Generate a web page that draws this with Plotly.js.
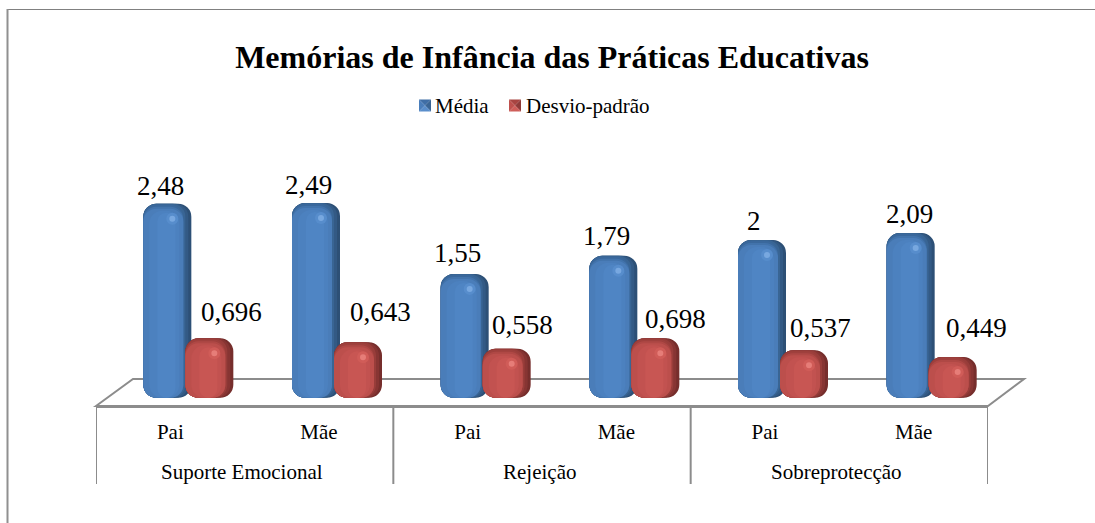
<!DOCTYPE html>
<html><head><meta charset="utf-8">
<script src="https://cdn.plot.ly/plotly-3.0.1.min.js"></script>
<style>html,body{margin:0;padding:0;background:#fff}</style></head>
<body><div id="chart" style="width:1095px;height:523px"></div>
<script>
const groups = ['Suporte Emocional','Rejeição','Sobreprotecção'];
const parents = ['Pai','Mãe','Pai','Mãe','Pai','Mãe'];
const media = [2.48,2.49,1.55,1.79,2,2.09];
const desvio = [0.696,0.643,0.558,0.698,0.537,0.449];
const mediaLabels = ['2,48','2,49','1,55','1,79','2','2,09'];
const desvioLabels = ['0,696','0,643','0,558','0,698','0,537','0,449'];
const positions = [0,1,2,3,4,5];

// layout helpers (pixels)
const W=1095,H=523,L=96,R=988,T=160,B=406;
const unitX=(R-L)/6, unitY=75.5;
const yMin=-0.2, yMax=yMin+(B-T)/unitY, foot=-0.09;
const px=v=>v/unitX, py=v=>v/unitY;
const X=(p)=>(p-L)/(R-L), Y=(p)=>(B-p)/(B-T);

function layer(vals,off,wid,drop,color,name){
  return {type:'bar',x:positions,y:vals.map(v=>v-py(drop)-foot),base:vals.map(()=>foot),
    offset:px(off),width:px(wid),marker:{color:color,line:{width:0}},
    name:name||'',showlegend:false,hoverinfo:'skip'};
}
function spot(vals,off,wid,drop,len,color){
  return {type:'bar',x:positions,y:vals.map(()=>py(len)),base:vals.map(v=>v-py(drop)-py(len)),
    offset:px(off),width:px(wid),marker:{color:color,line:{width:0}},showlegend:false,hoverinfo:'skip'};
}
function series(vals,o,c,name){
  return [
    layer(vals,o,48,0,c.side[0]),
    layer(vals,o,45,0,c.side[1]),
    layer(vals,o,42,0,c.side[2]),
    layer(vals,o,40,1,c.face[0]),
    layer(vals,o,40,3,c.face[1]),
    layer(vals,o,40,5,c.face[2],name),
    layer(vals,o+6,30,7,c.face[3]),
    layer(vals,o+14,18,9,c.face[4]),
    spot(vals,o+23,12,9,12,c.spot[0]),
    spot(vals,o+26,6,12,6,c.spot[1])
  ];
}
const blue={side:['#2d5076','#335a85','#396594'],face:['#3a689c','#4273ab','#4a7db9','#4c81bf','#4f85c4'],spot:['#578dcc','#78a8e0']};
const red={side:['#762e2c','#873533','#983d3a'],face:['#9f403d','#af4845','#bc4f4c','#c25250','#c85653'],spot:['#d05c58','#e67d78']};
const data=[...series(media,-27,blue,'Média'),...series(desvio,15,red,'Desvio-padrão')];

const mediaPos=[[-10,-18],[-11,-18],[-10,-21],[-10,-20],[-11,-19],[-4,-19]];
const desvioPos=[[61,-26],[61,-30],[55,-24],[59,-19],[55,-22],[63,-29]];
const annotations=[];
function addLabels(vals,labels,pos){
  vals.forEach((v,i)=>annotations.push({xref:'x',yref:'y',x:i,y:v,text:labels[i],showarrow:false,
    xshift:pos[i][0],yshift:-pos[i][1],xanchor:'center',yanchor:'middle',
    font:{family:'Liberation Serif',size:27,color:'#000'}}));
}
addLabels(media,mediaLabels,mediaPos);
addLabels(desvio,desvioLabels,desvioPos);
groups.forEach((g,i)=>annotations.push({xref:'x',yref:'paper',x:2*i+0.5,y:Y(472),text:g,showarrow:false,xshift:-3,
  xanchor:'center',yanchor:'middle',font:{family:'Liberation Serif',size:21,color:'#000'}}));
[['Média',433],['Desvio-padrão',524]].forEach(([t,p])=>annotations.push({xref:'paper',yref:'paper',x:X(p),y:Y(106),text:t,showarrow:false,
  xanchor:'left',yanchor:'middle',font:{family:'Liberation Serif',size:21,color:'#000'}}));

const gray='#8c8c8c';
const floorPath=`M ${X(96)} ${Y(406)} L ${X(133)} ${Y(379)} L ${X(1024)} ${Y(379)} L ${X(988)} ${Y(406)} Z`;
const shapes=[
  {type:'path',xref:'paper',yref:'paper',path:floorPath,line:{color:gray,width:2},fillcolor:'#fff',layer:'below'},
  {type:'line',xref:'paper',yref:'paper',x0:X(7),x1:X(1095),y0:Y(9.5),y1:Y(9.5),line:{color:'#808080',width:1}},
  {type:'line',xref:'paper',yref:'paper',x0:X(7.5),x1:X(7.5),y0:Y(9),y1:Y(523),line:{color:'#909090',width:2}}
];
[-0.5,1.5,3.5,5.5].forEach(d=>shapes.push({type:'line',xref:'x',yref:'paper',x0:d,x1:d,y0:Y(406),y1:Y(484),line:{color:gray,width:2}}));
function pyramid(x0,y0,s,cols){
  const c=[x0+s/2,y0+s/2],p=[[x0,y0],[x0+s,y0],[x0+s,y0+s],[x0,y0+s]];
  p.forEach((a,i)=>{const b=p[(i+1)%4];
    shapes.push({type:'path',xref:'paper',yref:'paper',line:{width:0},fillcolor:cols[i],
      path:`M ${X(a[0])} ${Y(a[1])} L ${X(b[0])} ${Y(b[1])} L ${X(c[0])} ${Y(c[1])} Z`});});
}
pyramid(419,99.5,12,['#3f6ea6','#3a6595','#5a8ecb','#4a7ebb']);
pyramid(509,99.5,12,['#a84441','#8f3a38','#cf5e5a','#bf504d']);

const layout={
  width:W,height:H,margin:{l:L,r:W-R,t:T,b:H-B,pad:0},
  paper_bgcolor:'#fff',plot_bgcolor:'rgba(0,0,0,0)',
  barmode:'overlay',barcornerradius:13,showlegend:false,
  font:{family:'Liberation Serif',color:'#000'},
  title:{text:'<b>Memórias de Infância das Práticas Educativas</b>',x:552/W,xanchor:'center',y:1-57/H,yanchor:'middle',
    font:{family:'Liberation Serif',size:32,color:'#000'}},
  xaxis:{type:'linear',range:[-0.5,5.5],autorange:false,tickmode:'array',tickvals:positions,ticktext:parents,
    showline:true,linecolor:gray,linewidth:2,ticks:'',ticklen:0,ticklabelstandoff:6,showgrid:false,zeroline:false,
    tickfont:{family:'Liberation Serif',size:21,color:'#000'}},
  yaxis:{range:[yMin,yMax],autorange:false,visible:false,showgrid:false,zeroline:false},
  annotations:annotations,shapes:shapes
};
Plotly.newPlot('chart',data,layout,{displayModeBar:false,staticPlot:true});
</script></body></html>
